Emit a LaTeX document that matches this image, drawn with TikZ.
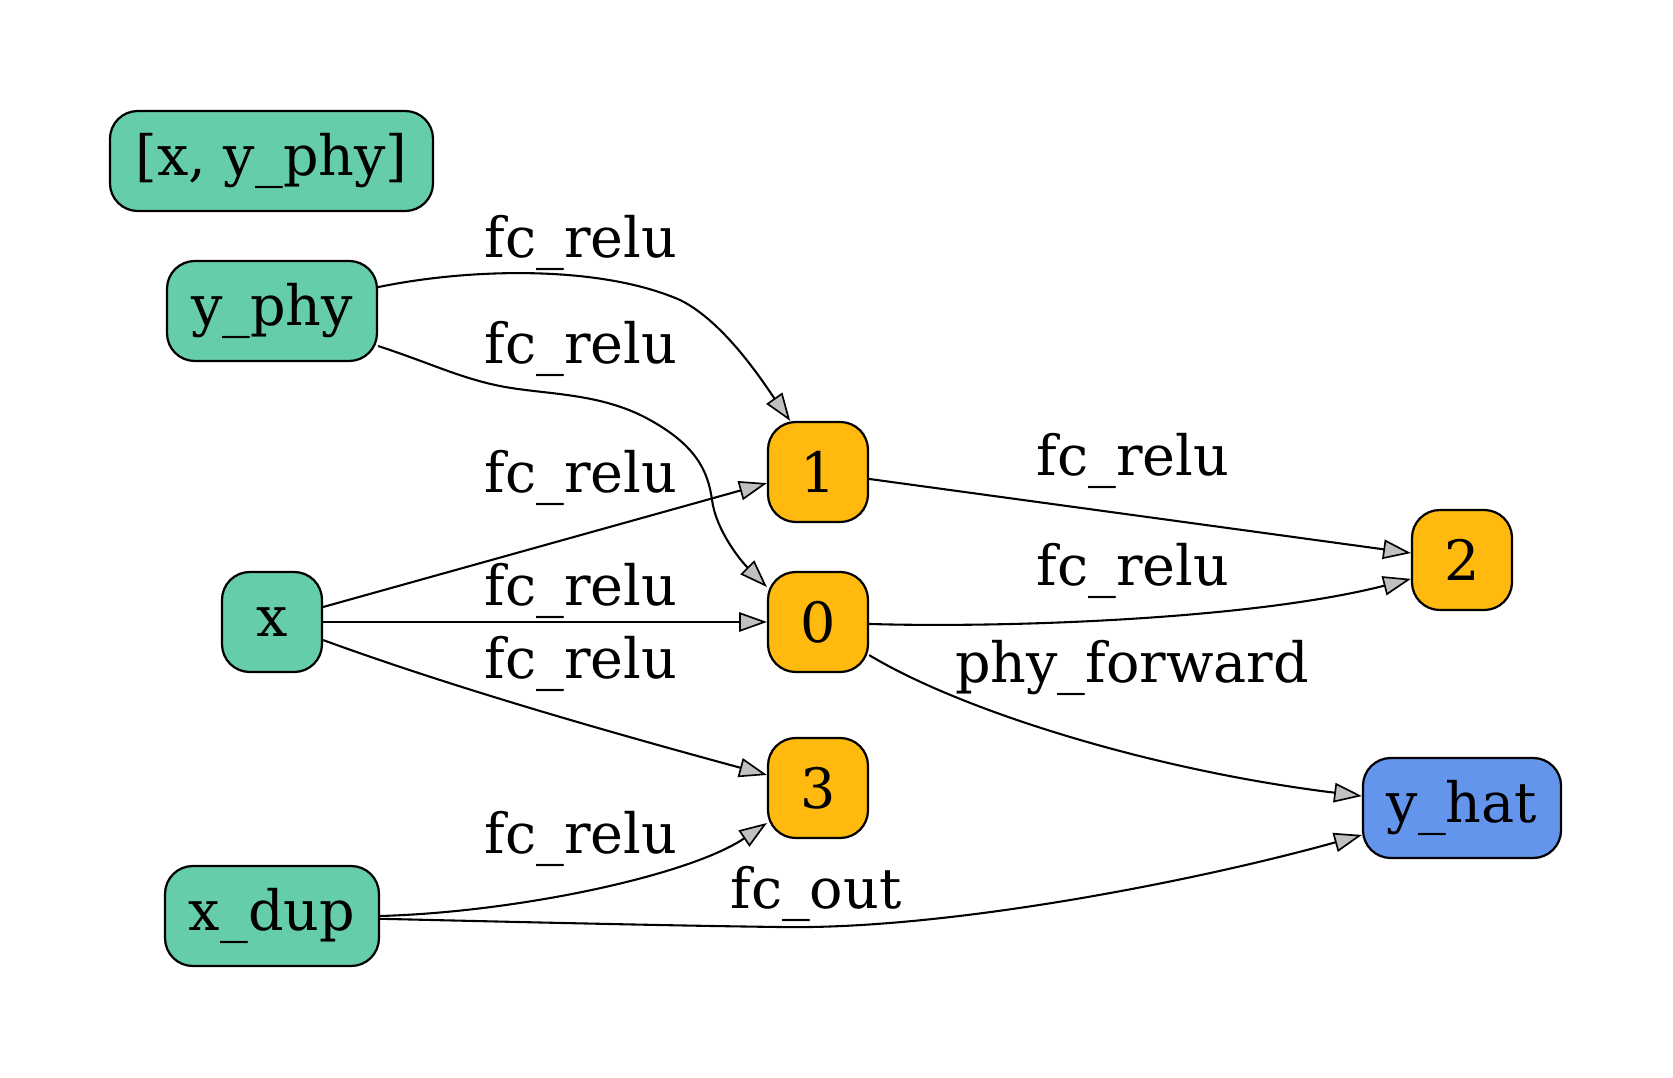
\documentclass[tikz,border=0pt]{standalone}
\usepackage{fontspec}
\setmainfont{DejaVu Serif}
\usetikzlibrary{arrows.meta}
\definecolor{ngreen}{HTML}{66CDAA}
\definecolor{norange}{HTML}{FFB90F}
\definecolor{nblue}{HTML}{6495ED}
\definecolor{tipgray}{HTML}{C0C0C0}
\tikzset{
  gnode/.style={draw=black, line width=0.8pt, rounded corners=10pt, inner sep=0pt,
    minimum height=36pt, font=\fontsize{20pt}{24pt}\selectfont},
  innode/.style={gnode, fill=ngreen},
  opnode/.style={gnode, fill=norange, minimum width=36pt},
  outnode/.style={gnode, fill=nblue},
  conn/.style={line width=0.75pt, -{Triangle[length=10pt,width=7pt,fill=tipgray,line width=0.6pt]}},
  elabel/.style={anchor=base, inner sep=0pt, font=\fontsize{20pt}{24pt}\selectfont}
}
\begin{document}
\begin{tikzpicture}[x=0.36pt, y=-0.36pt]
\useasboundingbox (0,0) rectangle (1673,1078);
% nodes
\node[innode, minimum width=116.3pt] (xy) at (271.5,161) {[x, y\_phy]};
\node[innode, minimum width=75.6pt] (yphy) at (272,311) {y\_phy};
\node[innode, minimum width=36pt] (x) at (272,622) {x};
\node[innode, minimum width=77pt] (xdup) at (272,916) {x\_dup};
\node[opnode] (n1) at (818,472) {1};
\node[opnode] (n0) at (818,622) {0};
\node[opnode] (n3) at (818,788) {3};
\node[opnode] (n2) at (1462,560) {2};
\node[outnode, minimum width=71.3pt] (yhat) at (1462,808) {y\_hat};
% connectors
\draw[conn] ([yshift=8.6pt]yphy.east) .. controls (470,268) and (600,265) .. (680,300)
  .. controls (725,322) and (765,385) .. ([xshift=-10pt]n1.north);
\draw[conn] ([yshift=-12.6pt]yphy.east) .. controls (430,363) and (460,378) .. (500,386)
  .. controls (545,395) and (600,392) .. (650,420)
  .. controls (695,445) and (708,470) .. (712,500)
  .. controls (716,530) and (740,560) .. ([yshift=12.6pt]n0.west);
\draw[conn] ([yshift=5.4pt]x.east) -- ([yshift=-4pt]n1.west);
\draw[conn] (x.east) -- (n0.west);
\draw[conn] ([yshift=-6.5pt]x.east) .. controls (460,690) and (620,735) .. ([yshift=4.7pt]n3.west);
\draw[conn] (xdup.east) .. controls (520,912) and (690,875) .. ([yshift=-12.6pt]n3.west);
\draw[conn] ([yshift=-1pt]xdup.east) .. controls (600,924) and (700,926) .. (780,927)
  .. controls (950,930) and (1200,880) .. ([yshift=-9.7pt]yhat.west);
\draw[conn] ([yshift=-2.5pt]n1.east) -- ([yshift=2.5pt]n2.west);
\draw[conn] ([yshift=-0.7pt]n0.east) .. controls (1000,628) and (1250,620) .. ([yshift=-6.8pt]n2.west);
\draw[conn] ([yshift=-11.9pt]n0.east) .. controls (960,710) and (1150,770) .. ([yshift=4.3pt]yhat.west);
% labels
\node[elabel] (l1) at (581,258) {fc\_relu};
\node[elabel] (l2) at (581,363) {fc\_relu};
\node[elabel] (l3) at (581,492) {fc\_relu};
\node[elabel] (l4) at (581,605) {fc\_relu};
\node[elabel] (l5) at (581,678) {fc\_relu};
\node[elabel] (l6) at (581,853) {fc\_relu};
\node[elabel] (l7) at (816,908) {fc\_out};
\node[elabel] (l8) at (1133,475) {fc\_relu};
\node[elabel] (l9) at (1133,585) {fc\_relu};
\node[elabel] (l10) at (1132,682) {phy\_forward};
\end{tikzpicture}
\end{document}
